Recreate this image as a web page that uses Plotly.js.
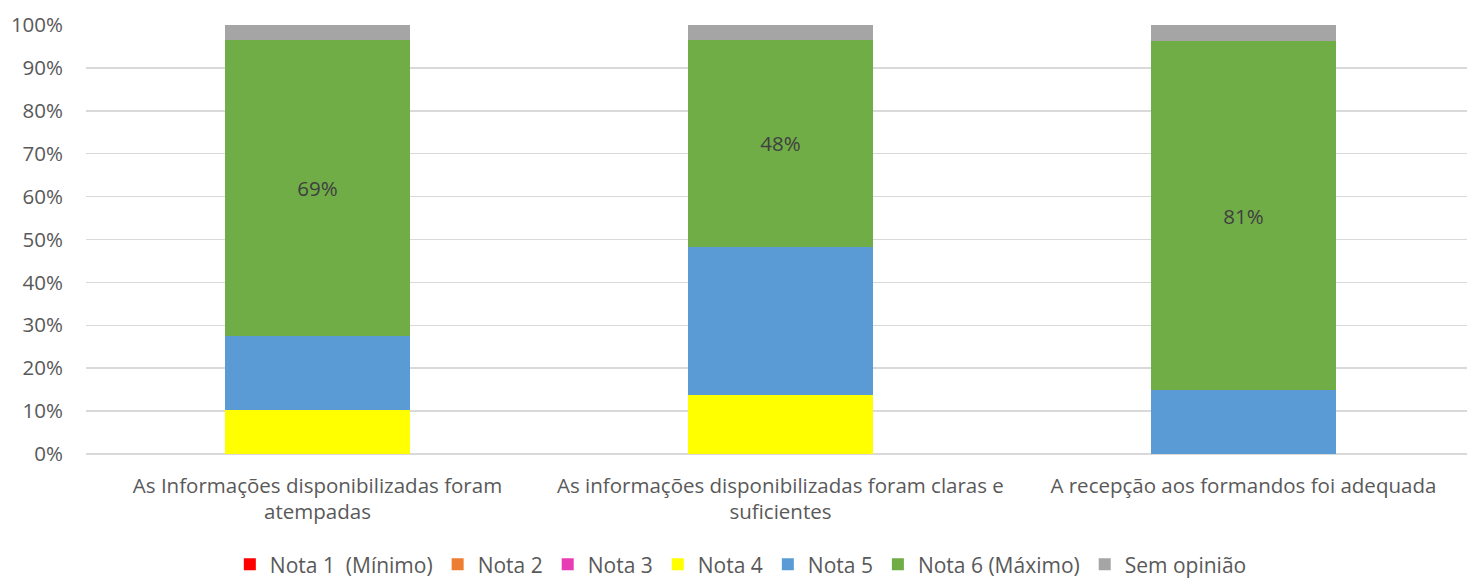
<!DOCTYPE html>
<html>
<head>
<meta charset="utf-8">
<script src="https://cdn.plot.ly/plotly-3.0.1.min.js"></script>
<style>
  html, body { margin: 0; padding: 0; background: #ffffff; }
  #chart { width: 1467px; height: 579px; }
</style>
</head>
<body>
<div id="chart"></div>
<script>
  // Question labels (x categories), wrapped as in the original.
  var categories = [
    "As Informações disponibilizadas foram<br>atempadas",
    "As informações disponibilizadas foram claras e<br>suficientes",
    "A recepção aos formandos foi adequada"
  ];

  // Share of answers per grade, in percent.
  var nota1 = [0, 0, 0];
  var nota2 = [0, 0, 0];
  var nota3 = [0, 0, 0];
  var nota4 = [10.34, 13.79, 0];
  var nota5 = [17.24, 34.48, 14.81];
  var nota6 = [68.97, 48.28, 81.48];
  var semOpiniao = [3.45, 3.45, 3.70];

  // Only the Nota 6 segment carries a data label.
  var nota6Labels = ["69%", "48%", "81%"];

  var yTicks = [0, 10, 20, 30, 40, 50, 60, 70, 80, 90, 100];

  var FONT = "'Open Sans', sans-serif";
  var SIZE = 20.5;
  var TEXT = "#595959";
  var GRID = "#d9d9d9";

  function series(name, values, color, labels) {
    var t = {
      type: "bar",
      name: name,
      x: [0, 1, 2],
      y: values,
      width: 0.4,
      marker: { color: color, line: { width: 0 } },
      hoverinfo: "skip"
    };
    if (labels) {
      t.text = labels;
      t.texttemplate = "%{text}";
      t.textposition = "inside";
      t.insidetextanchor = "middle";
      t.textangle = 0;
      t.insidetextfont = { family: FONT, size: SIZE, color: "#404040" };
    } else {
      t.textposition = "none";
    }
    return t;
  }

  var traces = [
    series("Nota 1  (Mínimo)", nota1, "#ff0000"),
    series("Nota 2", nota2, "#ed7d31"),
    series("Nota 3", nota3, "#e83cb4"),
    series("Nota 4", nota4, "#ffff00"),
    series("Nota 5", nota5, "#5b9bd5"),
    series("Nota 6 (Máximo)", nota6, "#70ad47", nota6Labels),
    series("Sem opinião", semOpiniao, "#a5a5a5")
  ];

  var layout = {
    width: 1467,
    height: 579,
    autosize: false,
    paper_bgcolor: "#ffffff",
    plot_bgcolor: "#ffffff",
    barmode: "stack",
    showlegend: true,
    margin: { l: 86, r: 0, t: 25, b: 125, autoexpand: false },
    font: { family: FONT, size: SIZE, color: TEXT },
    xaxis: {
      range: [-0.5, 2.483],
      tickmode: "array",
      tickvals: [0, 1, 2],
      ticktext: categories,
      showgrid: false,
      zeroline: false,
      showline: false,
      ticks: "",
      tickfont: { family: FONT, size: SIZE, color: TEXT },
      ticklabelstandoff: 17
    },
    yaxis: {
      range: [0, 100],
      tickmode: "array",
      tickvals: yTicks,
      ticktext: yTicks.map(function (v) { return v + "%"; }),
      showgrid: true,
      gridcolor: GRID,
      gridwidth: 1.5,
      zeroline: true,
      zerolinecolor: GRID,
      zerolinewidth: 1.5,
      showline: false,
      ticks: "",
      tickfont: { family: FONT, size: SIZE, color: TEXT },
      ticklabelstandoff: 22
    },
    legend: {
      orientation: "h",
      xref: "container",
      x: 0.505,
      xanchor: "center",
      y: -0.258,
      yanchor: "middle",
      traceorder: "normal",
      font: { family: FONT, size: 21, color: TEXT },
      itemwidth: 30,
      bgcolor: "rgba(0,0,0,0)"
    }
  };

  Plotly.newPlot("chart", traces, layout, { displayModeBar: false, staticPlot: true });
</script>
</body>
</html>
